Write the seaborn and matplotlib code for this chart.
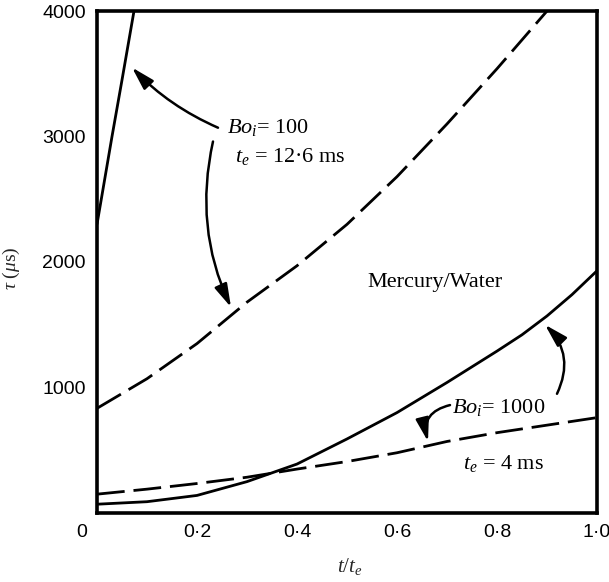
import matplotlib
matplotlib.use("Agg")
import matplotlib.pyplot as plt
import matplotlib.transforms as mtransforms
import numpy as np
import pandas as pd
import seaborn as sns

# Relaxation time tau (microseconds) against normalised time t/t_e
bo100_solid_t = [0.0, 0.03, 0.05, 0.074]
bo100_solid_tau = [2300, 3000, 3450, 4000]

bo100_dashed_t = [0.0, 0.1, 0.2, 0.3, 0.4, 0.5, 0.6, 0.7, 0.8, 0.9]
bo100_dashed_tau = [834, 1070, 1350, 1680, 1970, 2300, 2680, 3100, 3540, 4000]

bo1000_solid_t = [0.0, 0.1, 0.2, 0.3, 0.4, 0.5, 0.6, 0.7, 0.8, 0.85, 0.9, 0.95, 1.0]
bo1000_solid_tau = [70, 90, 140, 250, 390, 590, 800, 1040, 1290, 1420, 1570, 1740, 1930]

bo1000_dashed_t = [0.0, 0.1, 0.2, 0.3, 0.4, 0.5, 0.6, 0.7, 0.8, 0.9, 1.0]
bo1000_dashed_tau = [150, 190, 235, 285, 350, 410, 480, 570, 640, 700, 760]

x_ticks = [0.0, 0.2, 0.4, 0.6, 0.8, 1.0]
x_tick_labels = ["0", "0·2", "0·4", "0·6", "0·8", "1·0"]
y_ticks = [1000, 2000, 3000, 4000]
y_tick_labels = ["1000", "2000", "3000", "4000"]

sns.set_theme(style="white")
plt.rcParams["font.family"] = ["Liberation Serif", "DejaVu Serif"]
plt.rcParams["mathtext.fontset"] = "custom"
plt.rcParams["mathtext.rm"] = "Liberation Serif"
plt.rcParams["mathtext.it"] = "Liberation Serif:italic"

fig = plt.figure(figsize=(6.09, 5.82), dpi=100)
ax = fig.add_axes([97 / 609, 1 - 513 / 582, 500 / 609, 502 / 582])

dash = (0, (10, 3.2))
curves = [
    (bo100_solid_t, bo100_solid_tau, "-"),
    (bo100_dashed_t, bo100_dashed_tau, dash),
    (bo1000_solid_t, bo1000_solid_tau, "-"),
    (bo1000_dashed_t, bo1000_dashed_tau, dash),
]
for t, tau, ls in curves:
    df = pd.DataFrame({"t": t, "tau": tau})
    sns.lineplot(data=df, x="t", y="tau", ax=ax, color="black",
                 linewidth=2.0, linestyle=ls, solid_capstyle="butt",
                 dash_capstyle="butt")

ax.set_xlim(0, 1.0)
ax.set_ylim(0, 4000)
ax.set_xticks(x_ticks)
ax.set_xticklabels(x_tick_labels, fontfamily="Liberation Sans", fontsize=14)
ax.set_yticks(y_ticks)
ax.set_yticklabels(y_tick_labels, fontfamily="Liberation Sans", fontsize=14)
ax.tick_params(axis="both", direction="in", length=7, width=2, color="black",
               labelcolor="black")
ax.tick_params(axis="x", pad=8)
ax.tick_params(axis="y", pad=8)

# shift the corner "0" label left, clear of the origin
off = mtransforms.ScaledTranslation(-15 / 100, 0, fig.dpi_scale_trans)
lab0 = ax.xaxis.get_major_ticks()[0].label1
lab0.set_transform(lab0.get_transform() + off)

for s in ax.spines.values():
    s.set_visible(True)
    s.set_color("black")
    s.set_linewidth(2.6)

ax.set_xlabel("$t/t_e$", fontsize=15)
ax.set_ylabel(r"$\tau$ ($\mu$s)", fontsize=14)
ax.xaxis.set_label_coords(0.506, -0.086)
ax.yaxis.set_label_coords(-0.150, 0.488)

txt = dict(color="black", fontsize=16, va="center", ha="left")
ax.text(0.26, 3068, "$Bo_i$= 100", **txt)
ax.text(0.276, 2837, "$t_e$ = 12·6 ms", **txt)
ax.text(0.54, 1833, "Mercury/Water", **txt)
ax.text(0.71, 837, "$Bo_i$= 1000", **txt)
ax.text(0.732, 398, "$t_e$ = 4 ms", **txt)

arrow = dict(arrowstyle="-|>,head_length=0.7,head_width=0.2", color="black",
             lw=1.8, shrinkA=0, shrinkB=0, mutation_scale=20)
ax.annotate("", xy=(0.070, 3550), xytext=(0.242, 3070),
            arrowprops=dict(connectionstyle="arc3,rad=-0.1", **arrow))
ax.annotate("", xy=(0.268, 1640), xytext=(0.232, 2960),
            arrowprops=dict(connectionstyle="arc3,rad=0.17", **arrow))
ax.annotate("", xy=(0.662, 570), xytext=(0.706, 860),
            arrowprops=dict(connectionstyle="arc3,rad=0.5", **arrow))
ax.annotate("", xy=(0.896, 1500), xytext=(0.920, 950),
            arrowprops=dict(connectionstyle="arc3,rad=0.35", **arrow))

fig.savefig("out.png", dpi=100, facecolor="white")
